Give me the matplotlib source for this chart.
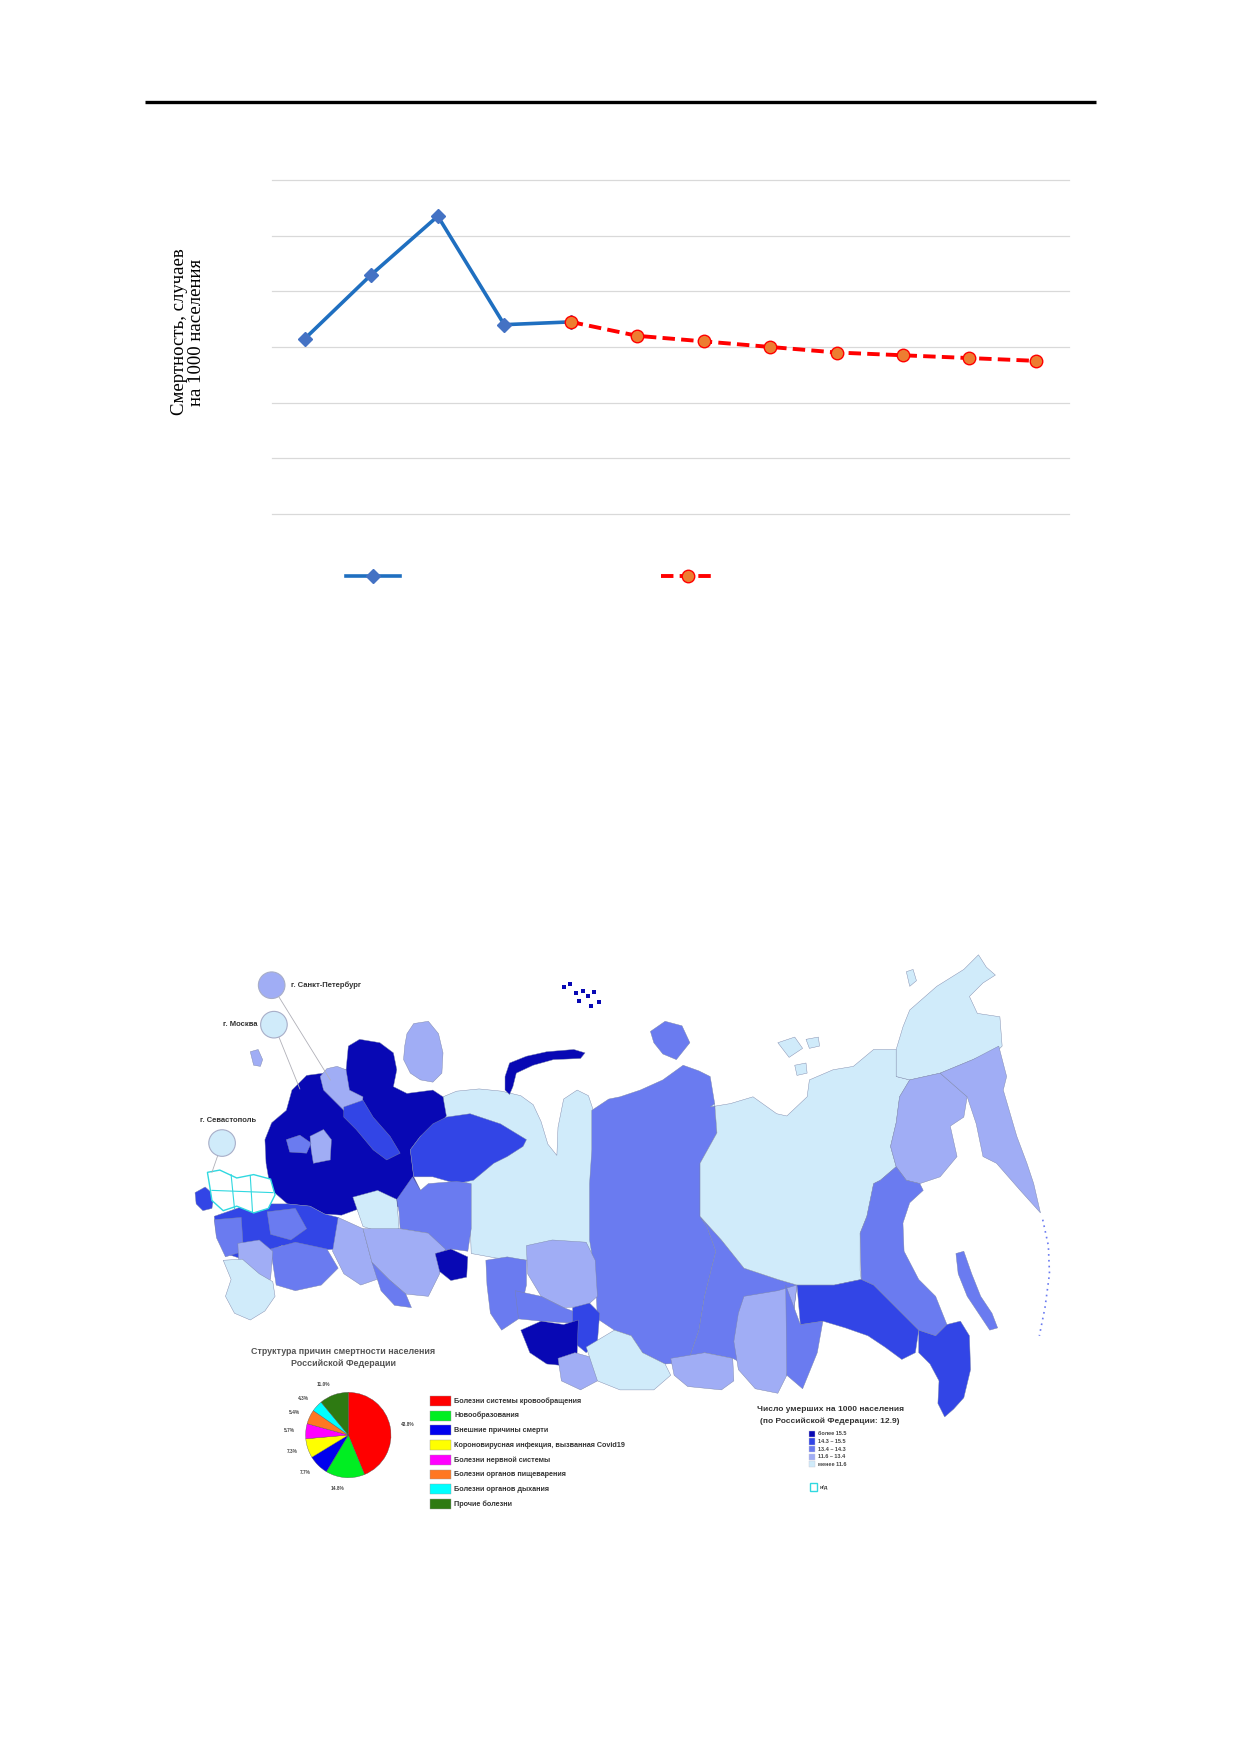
import matplotlib
matplotlib.use("Agg")
import matplotlib.pyplot as plt
from matplotlib.patches import Polygon, Rectangle, Circle
from matplotlib.lines import Line2D

# --- line chart data (y axis 6..18, no tick labels in the source) ---
years = [2019, 2020, 2021, 2022, 2023, 2024, 2025, 2026, 2027, 2028, 2029, 2030]
fact_values = [12.3, 14.6, 16.7, 12.8, 12.9]
forecast_values = [12.9, 12.4, 12.2, 12.0, 11.8, 11.7, 11.6, 11.5]
y_label = "Смертность, случаев\nна 1000 населения"

# --- pie: structure of causes of death ---
cause_names = ["Болезни системы кровообращения", "Новообразования", "Внешние причины смерти",
               "Короновирусная инфекция, вызванная Covid19", "Болезни нервной системы",
               "Болезни органов пищеварения", "Болезни органов дыхания", "Прочие болезни"]
cause_shares = [43.8, 14.8, 7.7, 7.3, 5.7, 5.4, 4.3, 11.0]
cause_colors = ["#ff0000", "#00ee22", "#0000ee", "#ffff00", "#ff00ff", "#ff7722", "#00ffff", "#2e7a12"]

# --- map classes ---
class_labels = ["более 15.5", "14.3 – 15.5", "13.4 – 14.3", "11.6 – 13.4", "менее 11.6"]
class_colors = ["#0808b4", "#3245e6", "#6a7bf0", "#a0adf5", "#d0ebfa"]

# city markers: name, class, circle centre, label position, leader line end
cities = [("г. Санкт-Петербург", 3, (241, 874), (258, 874), (293, 958)),
          ("г. Москва", 4, (243, 909), (228, 909), (266, 966)),
          ("г. Севастополь", 4, (197, 1014), (202, 994), (188, 1040))]

# regions in page units (page = 1100 x 1556), drawn in this order: (class, outline)
map_regions = [
    (4, [(393, 973), (405, 968), (425, 966), (445, 968), (462, 972), (473, 980), (480, 995), (486, 1015),
         (494, 1025), (495, 1000), (500, 975), (512, 967), (522, 972), (528, 990), (540, 990), (540, 1120),
         (528, 1118), (500, 1122), (470, 1118), (440, 1116), (418, 1112), (416, 1050), (400, 1045)]),
    (0, [(235, 1011), (241, 996), (254, 985), (259, 967), (272, 954), (287, 952), (307, 949), (309, 928),
         (319, 922), (337, 925), (349, 934), (352, 949), (349, 964), (361, 970), (384, 967), (393, 973),
         (396, 990), (387, 1002), (373, 1008), (364, 1020), (367, 1044), (373, 1056), (367, 1067),
         (343, 1073), (325, 1070), (303, 1078), (288, 1077), (275, 1070), (255, 1068), (240, 1055), (236, 1032)]),
    (1, [(373, 1008), (384, 997), (396, 991), (417, 988), (444, 997), (467, 1011), (464, 1017), (450, 1026),
         (438, 1032), (420, 1047), (405, 1050), (384, 1044), (367, 1044), (364, 1020)]),
    (3, [(284, 955), (290, 948), (299, 946), (307, 949), (310, 967), (322, 973), (321, 985), (305, 985),
         (299, 979), (287, 967)]),
    (1, [(305, 982), (322, 976), (331, 991), (346, 1008), (355, 1023), (343, 1029), (331, 1020), (316, 1002),
         (305, 991)]),
    (3, [(275, 1008), (287, 1002), (294, 1011), (293, 1029), (278, 1032), (276, 1020)]),
    (2, [(254, 1011), (266, 1007), (276, 1014), (272, 1023), (257, 1022)]),
    (3, [(361, 917), (367, 908), (380, 906), (389, 917), (393, 934), (392, 952), (384, 960), (373, 958),
         (364, 952), (358, 940), (359, 928)]),
    (3, [(222, 933), (229, 931), (233, 940), (231, 946), (225, 945)]),
    (1, [(190, 1079), (216, 1070), (240, 1068), (255, 1068), (275, 1070), (288, 1077), (300, 1080),
         (300, 1108), (270, 1110), (250, 1105), (235, 1112), (218, 1118), (200, 1112), (192, 1095)]),
    (2, [(237, 1075), (262, 1072), (272, 1090), (258, 1100), (240, 1095)]),
    (2, [(190, 1082), (214, 1080), (216, 1110), (200, 1115), (192, 1098)]),
    (2, [(240, 1108), (262, 1102), (290, 1108), (300, 1125), (285, 1140), (262, 1145), (245, 1140)]),
    (3, [(211, 1103), (230, 1100), (242, 1110), (240, 1135), (225, 1137), (212, 1125)]),
    (4, [(198, 1118), (215, 1117), (230, 1130), (242, 1137), (244, 1150), (235, 1163), (222, 1171),
         (208, 1165), (200, 1150), (205, 1135)]),
    (3, [(300, 1080), (322, 1090), (330, 1120), (340, 1133), (320, 1140), (305, 1130), (295, 1110)]),
    (4, [(313, 1062), (335, 1056), (352, 1064), (354, 1090), (340, 1094), (322, 1088)]),
    (2, [(352, 1064), (366, 1044), (373, 1056), (380, 1050), (405, 1048), (418, 1050), (418, 1090),
         (415, 1110), (400, 1108), (386, 1112), (380, 1094), (355, 1090), (354, 1075)]),
    (3, [(322, 1090), (355, 1090), (380, 1094), (395, 1108), (390, 1130), (380, 1150), (360, 1148),
         (345, 1135), (330, 1120)]),
    (2, [(330, 1120), (345, 1135), (360, 1148), (365, 1160), (350, 1158), (338, 1145)]),
    (0, [(386, 1112), (400, 1108), (415, 1115), (414, 1133), (400, 1136), (390, 1128)]),
    # Siberia
    (2, [(525, 985), (540, 975), (550, 973), (568, 967), (588, 958), (606, 945), (620, 950), (630, 955),
         (634, 979), (636, 1005), (621, 1032), (621, 1079), (627, 1088), (635, 1110), (625, 1150),
         (620, 1180), (610, 1209), (590, 1210), (570, 1200), (560, 1185), (545, 1180), (530, 1170),
         (528, 1130), (523, 1100), (523, 1050), (525, 1020)]),
    (2, [(577, 915), (590, 906), (605, 910), (612, 925), (600, 940), (588, 935), (580, 925)]),
    (2, [(621, 1079), (640, 1100), (660, 1125), (690, 1135), (707, 1140), (702, 1180), (698, 1220),
         (680, 1221), (650, 1205), (625, 1200), (610, 1209), (620, 1180), (625, 1150), (635, 1110), (627, 1088)]),
    (2, [(431, 1118), (450, 1115), (467, 1118), (467, 1140), (460, 1170), (445, 1180), (435, 1165), (432, 1140)]),
    (3, [(467, 1105), (490, 1100), (520, 1102), (528, 1118), (530, 1150), (520, 1159), (500, 1160),
         (480, 1150), (468, 1130)]),
    (2, [(457, 1145), (480, 1150), (500, 1160), (513, 1165), (510, 1174), (480, 1172), (460, 1170)]),
    (1, [(508, 1160), (523, 1156), (532, 1165), (530, 1190), (520, 1200), (508, 1190)]),
    (0, [(462, 1180), (480, 1172), (500, 1175), (513, 1171), (512, 1200), (505, 1212), (485, 1210), (470, 1200)]),
    (3, [(495, 1205), (510, 1200), (528, 1205), (530, 1225), (515, 1233), (498, 1225)]),
    (4, [(520, 1195), (545, 1180), (560, 1185), (570, 1200), (590, 1210), (595, 1220), (580, 1233),
         (550, 1233), (530, 1225)]),
    (3, [(595, 1205), (625, 1200), (650, 1205), (651, 1225), (640, 1233), (610, 1230), (598, 1220)]),
    # Far East
    (4, [(621, 1032), (636, 1005), (634, 979), (630, 982), (648, 979), (668, 973), (689, 988), (698, 990),
         (716, 973), (718, 958), (739, 949), (757, 946), (775, 931), (795, 931), (795, 955), (807, 958),
         (798, 973), (795, 996), (790, 1017), (795, 1035), (781, 1047), (775, 1050), (769, 1079),
         (763, 1094), (763, 1127), (764, 1135), (740, 1140), (707, 1140), (690, 1135), (660, 1125),
         (640, 1100), (621, 1079)]),
    (4, [(690, 925), (705, 920), (712, 930), (700, 938)]),
    (4, [(715, 922), (726, 920), (727, 928), (718, 930)]),
    (4, [(705, 945), (715, 943), (716, 952), (707, 954)]),
    (4, [(804, 862), (810, 860), (813, 870), (807, 875)]),
    (4, [(795, 931), (801, 911), (807, 896), (831, 875), (855, 860), (868, 847), (875, 858), (883, 865),
         (872, 872), (860, 884), (867, 899), (887, 902), (889, 928), (886, 931), (863, 940), (834, 952),
         (807, 958), (795, 955)]),
    (3, [(807, 958), (834, 952), (858, 973), (855, 991), (843, 999), (849, 1026), (834, 1044), (816, 1050),
         (804, 1047), (795, 1035), (790, 1017), (795, 996), (798, 973)]),
    (3, [(834, 952), (863, 940), (886, 928), (893, 955), (890, 967), (902, 1008), (911, 1032), (917, 1050),
         (923, 1076), (905, 1056), (884, 1032), (872, 1026), (866, 997), (858, 973)]),
    (2, [(795, 1035), (804, 1047), (816, 1050), (819, 1056), (807, 1067), (801, 1085), (802, 1110),
         (815, 1135), (830, 1150), (840, 1175), (830, 1185), (815, 1180), (800, 1165), (785, 1150),
         (775, 1140), (764, 1135), (763, 1094), (769, 1079), (775, 1050), (781, 1047)]),
    (3, [(660, 1150), (690, 1145), (707, 1140), (702, 1180), (698, 1220), (690, 1236), (670, 1232),
         (655, 1215), (651, 1190), (655, 1165)]),
    (2, [(697, 1140), (710, 1175), (730, 1172), (725, 1200), (712, 1232), (698, 1220)]),
    (1, [(707, 1140), (740, 1140), (764, 1135), (775, 1140), (785, 1150), (800, 1165), (815, 1180),
         (812, 1200), (800, 1206), (785, 1195), (770, 1185), (750, 1178), (730, 1172), (710, 1175)]),
    (1, [(815, 1180), (830, 1185), (840, 1175), (852, 1172), (860, 1185), (861, 1215), (855, 1240),
         (846, 1250), (838, 1257), (832, 1245), (833, 1225), (825, 1210), (815, 1200)]),
    (2, [(848, 1112), (855, 1110), (862, 1130), (870, 1150), (880, 1165), (885, 1178), (878, 1180),
         (868, 1165), (858, 1150), (850, 1130)]),
    (1, [(173, 1058), (182, 1053), (190, 1060), (188, 1072), (180, 1074), (174, 1068)]),
    (0, [(448, 955), (452, 943), (467, 937), (485, 933), (509, 931), (519, 934), (515, 939), (491, 940),
         (473, 945), (458, 952), (455, 964), (452, 971), (448, 967)]),
]
# regions without data (outlined only)
nodata_outline = [(184, 1040), (195, 1038), (210, 1045), (225, 1042), (240, 1046), (244, 1060), (238, 1072),
                  (225, 1076), (210, 1070), (198, 1074), (188, 1065), (186, 1052)]
nodata_inner = [[(205, 1042), (208, 1072)], [(222, 1043), (224, 1075)], [(188, 1056), (242, 1058)]]
franz_josef_x = [500, 506, 511, 517, 522, 527, 531, 514, 524]
franz_josef_y = [876, 873, 881, 879, 884, 880, 889, 888, 892]
kurils_x = [925, 930, 931, 927, 922]
kurils_y = [1082, 1105, 1130, 1160, 1185]

fig = plt.figure(figsize=(12.4, 17.54), dpi=100)

# page layer in page units
page = fig.add_axes([0, 0, 1, 1])
page.set_xlim(0, 1100)
page.set_ylim(1556, 0)
page.axis("off")
page.plot([128.6, 972.3], [90.5, 90.5], color="black", lw=2.4, solid_capstyle="butt")

for cls, outline in map_regions:
    page.add_patch(Polygon(outline, closed=True, facecolor=class_colors[cls],
                           edgecolor="#7a84a8", lw=0.3))
page.add_patch(Polygon(nodata_outline, closed=True, facecolor="white", edgecolor="#30d8e0", lw=1.0))
for seg in nodata_inner:
    page.plot([p[0] for p in seg], [p[1] for p in seg], color="#30d8e0", lw=0.8)
page.scatter(franz_josef_x, franz_josef_y, s=5, marker="s", color=class_colors[0], lw=0)
page.plot(kurils_x, kurils_y, color=class_colors[2], lw=1.2, ls=(0, (1, 2.5)))

for name, cls, centre, lab, end in cities:
    page.plot([centre[0], end[0]], [centre[1], end[1]], color="#b0b0b8", lw=0.6, zorder=1)
    page.add_patch(Circle(centre, 11.8, facecolor=class_colors[cls], edgecolor="#a8aec8", lw=0.8, zorder=3))
    ha = "center" if cls == 4 and lab[1] < centre[1] else ("right" if lab[0] < centre[0] else "left")
    page.text(lab[0], lab[1], name, ha=ha, va="center", fontsize=5.5, fontweight="bold",
              family="Liberation Sans", color="#333333")

# pie chart title and legend
page.text(304.6, 1199, "Структура причин смертности населения", ha="center", va="center",
          fontsize=6.4, fontweight="bold", family="Liberation Sans", color="#555555")
page.text(304.6, 1209.5, "Российской Федерации", ha="center", va="center",
          fontsize=6.4, fontweight="bold", family="Liberation Sans", color="#555555")
for i, (name, col) in enumerate(zip(cause_names, cause_colors)):
    yy = 1242.8 + i * 13.05
    page.add_patch(Rectangle((381.5, yy - 4.4), 18.3, 8.8, facecolor=col, edgecolor="#9a9a9a", lw=0.3))
    page.text(402.8, yy, name, ha="left", va="center", fontsize=5.2, fontweight="bold",
              family="Liberation Sans", color="#333333")

# class legend
page.text(736.3, 1250.2, "Число умерших на 1000 населения", ha="center", va="center",
          fontsize=6, fontweight="bold", family="Liberation Sans", color="#333333")
page.text(736.3, 1261.2, "(по Российской Федерации: 12.9)", ha="center", va="center",
          fontsize=6, fontweight="bold", family="Liberation Sans", color="#333333")
for i, (lab, col) in enumerate(zip(class_labels, class_colors)):
    yy = 1272.1 + i * 6.73
    page.add_patch(Rectangle((717.5, yy - 2.8), 5.6, 5.6, facecolor=col, edgecolor="#c8c8d8", lw=0.3))
    page.text(726, yy, lab, ha="left", va="center", fontsize=4, fontweight="bold",
              family="Liberation Sans", color="#444444")
page.add_patch(Rectangle((718.6, 1316), 5.9, 6.3, facecolor="white", edgecolor="#30d8e0", lw=1.0))
page.text(727, 1319.2, "н/д", ha="left", va="center", fontsize=4, fontweight="bold",
          family="Liberation Sans", color="#444444")

# pie
pax = fig.add_axes([0.2258, 0.1429, 0.1102, 0.0779])
pax.pie(cause_shares, colors=cause_colors, startangle=90, counterclock=False,
        labels=[f"{v:.1f}%" for v in cause_shares], labeldistance=1.25,
        wedgeprops=dict(edgecolor="#505050", lw=0.25),
        textprops=dict(fontsize=3.4, fontweight="bold", color="#444444", family="Liberation Sans"))
pax.set_xlim(-1.6, 1.6)
pax.set_ylim(-1.6, 1.6)
pax.set_aspect("equal")
pax.axis("off")

# line chart
ax = fig.add_axes([0.2191, 0.7070, 0.6431, 0.1904])
fact_x = list(range(len(fact_values)))
forecast_x = list(range(len(fact_values) - 1, len(years)))
ax.plot(fact_x, fact_values, color="#1f6fc0", lw=2.6, marker="D", ms=7.5,
        mfc="#4472c4", mec="#4472c4", zorder=3)
ax.plot(forecast_x, forecast_values, color="#ff0000", lw=2.8, dashes=(3.2, 1.6), marker="o", ms=9,
        mfc="#ed7d31", mec="#ff0000", mew=1, zorder=4)
ax.set_xlim(-0.5, len(years) - 0.5)
ax.set_ylim(6, 18)
ax.set_yticks(range(6, 19, 2))
ax.set_xticks(range(len(years)))
ax.tick_params(length=0, labelleft=False, labelbottom=False)
ax.grid(axis="y", color="#d9d9d9", lw=0.9)
ax.grid(axis="x", visible=False)
for gl in ax.get_ygridlines():
    gl.set_clip_on(False)
ax.set_axisbelow(True)
for s in ax.spines.values():
    s.set_visible(False)

fig.text(188 / 1240, 1 - 332 / 1754, y_label, rotation=90, ha="center", va="center",
         multialignment="center", family="Liberation Serif", fontsize=13.5, linespacing=1.05)

handles = [Line2D([], [], color="#1f6fc0", lw=2.6, marker="D", ms=7.5, mfc="#4472c4", mec="#4472c4"),
           Line2D([], [], color="#ff0000", lw=2.8, dashes=(3.2, 1.6), marker="o", ms=9,
                  mfc="#ed7d31", mec="#ff0000", mew=1)]
fig.legend(handles, [" ", " "], loc="center", bbox_to_anchor=(0.4352, 0.671), ncol=2, frameon=False,
           fontsize=12, handlelength=3.25, columnspacing=14.55, handletextpad=0.8, numpoints=1)

fig.savefig("out.png", dpi=100, facecolor="white")
